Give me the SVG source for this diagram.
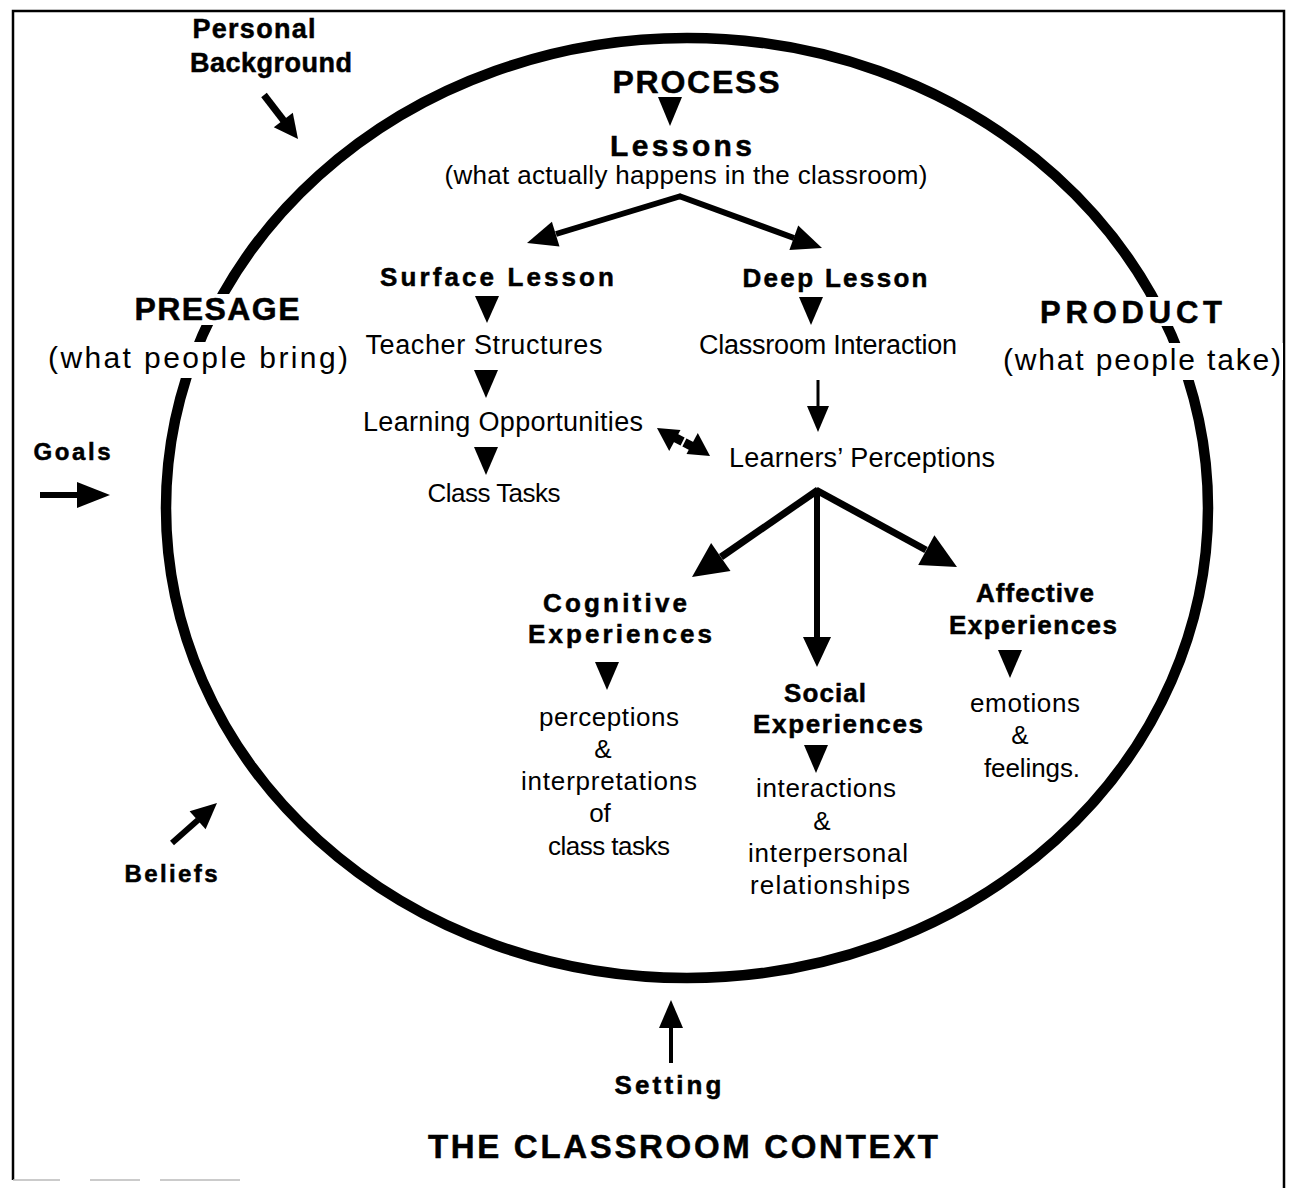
<svg xmlns="http://www.w3.org/2000/svg" width="1292" height="1188" viewBox="0 0 1292 1188">
<style>
text{font-family:"Liberation Sans",Arial,sans-serif;fill:#000;text-anchor:middle}
.b{font-weight:bold;stroke:#000;stroke-width:0.5}
.r{font-weight:normal}
.ln{stroke:#000;fill:none;stroke-linecap:butt}
.hd{fill:#000;stroke:none}
.mask{fill:#fff;stroke:none}
</style>
<rect width="1292" height="1188" fill="#fff"/>
<g id="frame">
<path d="M13,1180 L13,11 L1284,11 L1284,1188" fill="none" stroke="#000" stroke-width="2.5"/>
<path d="M13,1180 L60,1180 M90,1180 L140,1180 M160,1180 L240,1180" stroke="#bbb" stroke-width="1.5"/>
</g>
<g id="classroom">
<ellipse cx="687" cy="508" rx="521" ry="470" fill="none" stroke="#000" stroke-width="10.5"/>
</g>
<g id="connectors">
<line class="ln" x1="264" y1="95" x2="284" y2="121" stroke-width="7"/>
<polygon class="hd" points="298,139 273.8,127.3 292.8,112.7"/>
<polygon class="hd" points="658,97 682,97 670,126"/>
<line class="ln" x1="681" y1="196" x2="556" y2="234" stroke-width="6"/>
<polygon class="hd" points="527,243 551.9,221.8 559.5,246.6"/>
<line class="ln" x1="679" y1="196" x2="794" y2="238" stroke-width="6"/>
<polygon class="hd" points="822,248 789.4,250 798.2,225.5"/>
<polygon class="hd" points="475,296 499,296 487,323"/>
<polygon class="hd" points="474,370 498,370 486,398"/>
<polygon class="hd" points="474,447 498,447 486,475"/>
<polygon class="hd" points="799,297 823,297 811,325"/>
<line class="ln" x1="818" y1="380" x2="818" y2="407" stroke-width="3"/>
<polygon class="hd" points="807,406 829,406 818,432"/>
<line class="ln" x1="670" y1="435" x2="697" y2="449" stroke-width="9"/>
<polygon class="hd" points="657,428 669.2,451.1 680.5,429.9"/>
<polygon class="hd" points="710,456 686.5,454.1 697.8,432.9"/>
<line x1="681" y1="447" x2="686" y2="437" stroke="#fff" stroke-width="2"/>
<line class="ln" x1="818" y1="490" x2="721" y2="557" stroke-width="7"/>
<polygon class="hd" points="692,577 711.1,543.1 730.5,571.1"/>
<line class="ln" x1="817" y1="490" x2="817" y2="638" stroke-width="6"/>
<polygon class="hd" points="803,637 831,637 817,667"/>
<line class="ln" x1="816" y1="490" x2="926" y2="550" stroke-width="7"/>
<polygon class="hd" points="957,567 918.2,565.1 934.4,535.3"/>
<polygon class="hd" points="595,662 619,662 607,690"/>
<polygon class="hd" points="804,745 828,745 816,773"/>
<polygon class="hd" points="998,650 1022,650 1010,678"/>
<line class="ln" x1="40" y1="495" x2="78" y2="495" stroke-width="6"/>
<polygon class="hd" points="77,482 77,508 110,495"/>
<line class="ln" x1="172" y1="843" x2="198" y2="820" stroke-width="6"/>
<polygon class="hd" points="217,803 205.6,829.3 189.6,811.3"/>
<line class="ln" x1="671" y1="1063" x2="671" y2="1027" stroke-width="4"/>
<polygon class="hd" points="659,1028 683,1028 671,1000"/>
</g>
<g id="influences">
<text class="b" x="254" y="38" font-size="27" textLength="123" lengthAdjust="spacing">Personal</text>
<text class="b" x="271" y="72" font-size="27" textLength="162" lengthAdjust="spacing">Background</text>
<text class="b" x="72" y="460" font-size="24" textLength="77" lengthAdjust="spacing">Goals</text>
<text class="b" x="171" y="882" font-size="24" textLength="93" lengthAdjust="spacing">Beliefs</text>
<text class="b" x="668" y="1094" font-size="26" textLength="107" lengthAdjust="spacing">Setting</text>
<text class="b" x="683" y="1158" font-size="33" textLength="510" lengthAdjust="spacing">THE CLASSROOM CONTEXT</text>
</g>
<g id="presage">
<rect class="mask" x="133" y="294" width="169" height="31"/>
<rect class="mask" x="45" y="342" width="305" height="36"/>
<text class="b" x="217" y="320" font-size="32" textLength="165" lengthAdjust="spacing">PRESAGE</text>
<text class="r" x="198" y="368" font-size="30" textLength="300" lengthAdjust="spacing">(what people bring)</text>
</g>
<g id="product">
<rect class="mask" x="1038" y="297" width="186" height="29"/>
<rect class="mask" x="1001" y="343" width="282" height="37"/>
<text class="b" x="1131" y="323" font-size="31" textLength="182" lengthAdjust="spacing">PRODUCT</text>
<text class="r" x="1142" y="370" font-size="30" textLength="278" lengthAdjust="spacing">(what people take)</text>
</g>
<g id="process">
<text class="b" x="696" y="93" font-size="32" textLength="167" lengthAdjust="spacing">PROCESS</text>
</g>
<g id="lessons">
<text class="b" x="681" y="156" font-size="30" textLength="142" lengthAdjust="spacing">Lessons</text>
<text class="r" x="686" y="184" font-size="26" textLength="483" lengthAdjust="spacing">(what actually happens in the classroom)</text>
</g>
<g id="surface-lesson">
<text class="b" x="497" y="286" font-size="26" textLength="234" lengthAdjust="spacing">Surface Lesson</text>
</g>
<g id="teacher-structures">
<text class="r" x="484" y="354" font-size="27" textLength="237" lengthAdjust="spacing">Teacher Structures</text>
</g>
<g id="learning-opportunities">
<text class="r" x="503" y="431" font-size="27" textLength="280" lengthAdjust="spacing">Learning Opportunities</text>
</g>
<g id="class-tasks">
<text class="r" x="494" y="502" font-size="26" textLength="133" lengthAdjust="spacing">Class Tasks</text>
</g>
<g id="deep-lesson">
<text class="b" x="835" y="287" font-size="26" textLength="185" lengthAdjust="spacing">Deep Lesson</text>
</g>
<g id="classroom-interaction">
<text class="r" x="828" y="354" font-size="27" textLength="258" lengthAdjust="spacing">Classroom Interaction</text>
</g>
<g id="learners-perceptions">
<text class="r" x="862" y="467" font-size="27" textLength="266" lengthAdjust="spacing">Learners’ Perceptions</text>
</g>
<g id="cognitive">
<text class="b" x="615" y="612" font-size="26" textLength="144" lengthAdjust="spacing">Cognitive</text>
<text class="b" x="620" y="643" font-size="26" textLength="184" lengthAdjust="spacing">Experiences</text>
</g>
<g id="cognitive-detail">
<text class="r" x="609" y="726" font-size="26" textLength="140" lengthAdjust="spacing">perceptions</text>
<text class="r" x="603" y="758" font-size="26">&amp;</text>
<text class="r" x="609" y="790" font-size="26" textLength="176" lengthAdjust="spacing">interpretations</text>
<text class="r" x="600" y="822" font-size="26">of</text>
<text class="r" x="609" y="855" font-size="26" textLength="122" lengthAdjust="spacing">class tasks</text>
</g>
<g id="social">
<text class="b" x="825" y="702" font-size="26" textLength="82" lengthAdjust="spacing">Social</text>
<text class="b" x="838" y="733" font-size="26" textLength="170" lengthAdjust="spacing">Experiences</text>
</g>
<g id="social-detail">
<text class="r" x="826" y="797" font-size="26" textLength="140" lengthAdjust="spacing">interactions</text>
<text class="r" x="822" y="830" font-size="26">&amp;</text>
<text class="r" x="828" y="862" font-size="26" textLength="160" lengthAdjust="spacing">interpersonal</text>
<text class="r" x="830" y="894" font-size="26" textLength="160" lengthAdjust="spacing">relationships</text>
</g>
<g id="affective">
<text class="b" x="1035" y="602" font-size="26" textLength="118" lengthAdjust="spacing">Affective</text>
<text class="b" x="1033" y="634" font-size="26" textLength="168" lengthAdjust="spacing">Experiences</text>
</g>
<g id="affective-detail">
<text class="r" x="1025" y="712" font-size="26" textLength="110" lengthAdjust="spacing">emotions</text>
<text class="r" x="1020" y="744" font-size="26">&amp;</text>
<text class="r" x="1032" y="777" font-size="26" textLength="96" lengthAdjust="spacing">feelings.</text>
</g>
</svg>
